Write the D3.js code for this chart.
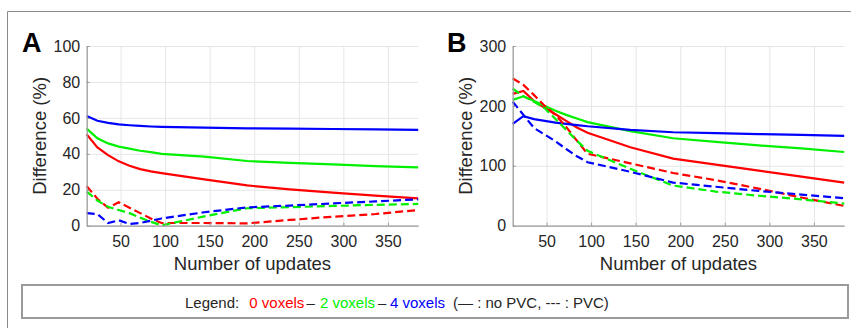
<!DOCTYPE html>
<html>
<head>
<meta charset="utf-8">
<script src="https://cdn.jsdelivr.net/npm/d3@7"></script>
<style>
  body { margin: 0; background: #fff; }
  svg { display: block; }
  text { font-family: "Liberation Sans", Arial, Helvetica, sans-serif; }
</style>
</head>
<body>
<svg width="851" height="328"></svg>
<script>
// number of updates at which the differences were sampled
const updates = [12, 24, 36, 48, 60, 72, 84, 96, 144, 192, 240, 288, 336, 384];

// panel A
const aRedSolid    = [50.8, 43.6, 39.3, 35.8, 33.4, 31.5, 30.2, 29.3, 25.8, 22.4, 20.2, 18.4, 16.7, 15.2];
const aGreenSolid  = [54, 48.6, 45.8, 44, 42.9, 41.7, 40.9, 40, 38.4, 36, 35, 34.1, 33.2, 32.5];
const aBlueSolid   = [61, 58.4, 57.2, 56.4, 55.9, 55.5, 55.2, 55, 54.6, 54.2, 54, 53.8, 53.6, 53.3];
const aRedDashed   = [22, 15, 10, 13, 10, 7, 4, 1.5, 1.5, 1.3, 3.2, 5, 6.5, 8.7];
const aGreenDashed = [19, 14, 10.5, 8.7, 7, 4.5, 2.2, 0.2, 5.2, 9.7, 10.3, 11, 11.6, 12.1];
const aBlueDashed  = [7, 6.5, 1.5, 3, 1, 1.5, 2.8, 4, 7.5, 10.2, 11.2, 12.4, 13.5, 14.7];

// panel B
const bRedSolid    = [220, 225, 208, 197, 186, 175, 164, 155, 131, 112, 102, 92, 82, 72];
const bGreenSolid  = [210, 216, 208, 200, 192, 185, 179, 173, 158, 146, 140, 134, 129, 123];
const bBlueSolid   = [170, 183, 178, 175, 172, 170, 168, 166, 160, 156, 154.5, 153, 151.5, 150];
const bRedDashed   = [246, 235, 218, 200, 185, 165, 142, 120, 104, 88, 76, 62, 47, 33];
const bGreenDashed = [229, 216, 207, 196, 178, 160, 142, 125, 95, 67, 57, 50, 44, 37];
const bBlueDashed  = [207, 185, 163, 152, 141, 128, 116, 106, 90, 72, 65, 58, 52, 46];

const xTicks  = [50, 100, 150, 200, 250, 300, 350];
const yTicksA = [0, 20, 40, 60, 80, 100];
const yTicksB = [0, 100, 200, 300];

const RED = '#ff0000', GREEN = '#00f000', BLUE = '#0000ff';

const svg = d3.select('svg');

// outer frame of the figure
svg.append('path')
    .attr('d', 'M7.5,328V11.5H851')
    .attr('fill', 'none')
    .attr('stroke', '#8a8a8a')
    .attr('stroke-width', 1);

const panels = [
  { label: 'A', left: 86.7, labelX: 22, yLabelX: 46, yMax: 100, yTicks: yTicksA,
    series: [
      { v: aRedSolid, c: RED }, { v: aGreenSolid, c: GREEN }, { v: aBlueSolid, c: BLUE },
      { v: aRedDashed, c: RED, dash: true }, { v: aGreenDashed, c: GREEN, dash: true },
      { v: aBlueDashed, c: BLUE, dash: true }
    ] },
  { label: 'B', left: 512.7, labelX: 447, yLabelX: 471.5, yMax: 300, yTicks: yTicksB,
    series: [
      { v: bRedSolid, c: RED }, { v: bGreenSolid, c: GREEN }, { v: bBlueSolid, c: BLUE },
      { v: bRedDashed, c: RED, dash: true }, { v: bGreenDashed, c: GREEN, dash: true },
      { v: bBlueDashed, c: BLUE, dash: true }
    ] }
];

const plotW = 331.5, plotTop = 46, plotBottom = 225.7;

panels.forEach(p => {
  const x = d3.scaleLinear().domain([12, 384]).range([p.left, p.left + plotW]);
  const y = d3.scaleLinear().domain([0, p.yMax]).range([plotBottom, plotTop]);
  const g = svg.append('g');

  // grid
  g.append('g')
      .attr('transform', 'translate(0,' + plotBottom + ')')
      .call(d3.axisBottom(x).tickValues(xTicks).tickSize(-(plotBottom - plotTop)).tickFormat(''))
      .call(s => s.select('.domain').remove())
      .selectAll('line').attr('stroke', '#e6e6e6');
  g.append('g')
      .attr('transform', 'translate(' + p.left + ',0)')
      .call(d3.axisLeft(y).tickValues(p.yTicks).tickSize(-plotW).tickFormat(''))
      .call(s => s.select('.domain').remove())
      .selectAll('line').attr('stroke', '#e6e6e6');

  // data lines
  const line = d3.line()
      .x((d, i) => x(updates[i]))
      .y(d => y(d));
  p.series.forEach(s => {
    g.append('path')
        .datum(s.v)
        .attr('d', line)
        .attr('fill', 'none')
        .attr('stroke', s.c)
        .attr('stroke-width', 2.2)
        .attr('stroke-dasharray', s.dash ? '8,4' : null);
  });

  // axes
  const xAxis = g.append('g')
      .attr('transform', 'translate(0,' + plotBottom + ')')
      .call(d3.axisBottom(x).tickValues(xTicks).tickSizeInner(-3).tickSizeOuter(0).tickPadding(10));
  const yAxis = g.append('g')
      .attr('transform', 'translate(' + p.left + ',0)')
      .call(d3.axisLeft(y).tickValues(p.yTicks).tickSizeInner(-3).tickSizeOuter(0).tickPadding(6.5));
  [xAxis, yAxis].forEach(a => {
    a.select('.domain').attr('stroke', '#9a9a9a').attr('stroke-width', 1.3);
    a.selectAll('.tick line').attr('stroke', '#9a9a9a');
    a.selectAll('.tick text')
        .attr('fill', '#262626')
        .style('font-size', '16px')
        .style('font-family', '"Liberation Sans", Arial, sans-serif');
  });

  g.append('text')
      .attr('x', p.left + plotW / 2)
      .attr('y', 270)
      .attr('text-anchor', 'middle')
      .attr('fill', '#262626')
      .style('font-size', '18.5px')
      .text('Number of updates');

  g.append('text')
      .attr('transform', 'translate(' + p.yLabelX + ',' + (plotTop + plotBottom) / 2 + ') rotate(-90)')
      .attr('text-anchor', 'middle')
      .attr('fill', '#262626')
      .style('font-size', '18.5px')
      .text('Difference (%)');

  g.append('text')
      .attr('x', p.labelX)
      .attr('y', 52)
      .attr('fill', '#000')
      .style('font-size', '27px')
      .style('font-weight', 'bold')
      .text(p.label);
});

// legend
svg.append('rect')
    .attr('x', 22).attr('y', 285)
    .attr('width', 826).attr('height', 33)
    .attr('fill', '#fff')
    .attr('stroke', '#9a9a9a')
    .attr('stroke-width', 2);

const legendParts = [
  { t: 'Legend:', c: '#262626', x: 185 },
  { t: '0 voxels', c: RED, x: 249.3 },
  { t: '\u2013', c: '#262626', x: 306.5 },
  { t: '2 voxels', c: GREEN, x: 320 },
  { t: '\u2013', c: '#262626', x: 378 },
  { t: '4 voxels', c: BLUE, x: 390 },
  { t: '(\u2014 : no PVC, --- : PVC)', c: '#262626', x: 453 }
];
svg.append('text')
    .attr('y', 308)
    .style('font-size', '15px')
    .selectAll('tspan')
    .data(legendParts)
    .join('tspan')
    .attr('x', d => d.x)
    .attr('fill', d => d.c)
    .text(d => d.t);
</script>
</body>
</html>
